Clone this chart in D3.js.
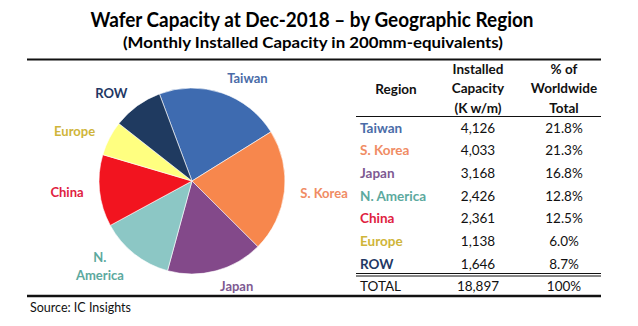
<!DOCTYPE html>
<html>
<head>
<meta charset="utf-8">
<script src="https://cdn.jsdelivr.net/npm/d3@7"></script>
<style>
  body { margin: 0; background: #fff; }
  text { font-family: Lato, "Open Sans", sans-serif; }
</style>
</head>
<body>
<script>
// Data
const regions = ["Taiwan", "S. Korea", "Japan", "N. America", "China", "Europe", "ROW"];
const pieLabels = [["Taiwan"], ["S. Korea"], ["Japan"], ["N.", "America"], ["China"], ["Europe"], ["ROW"]];
const capacity = [4126, 4033, 3168, 2426, 2361, 1138, 1646];
const share = ["21.8%", "21.3%", "16.8%", "12.8%", "12.5%", "6.0%", "8.7%"];
const total = ["TOTAL", "18,897", "100%"];
const sliceColors = ["#3e6bb0", "#f7874d", "#83498a", "#8cc7c5", "#f2141f", "#ffff80", "#1f3a60"];
const textColors = ["#4a6ca8", "#f08c64", "#7e5a92", "#5ca99e", "#e0213f", "#cfb53a", "#1f3864"];

const width = 638, height = 326;

const svg = d3.select("body").append("svg")
    .attr("width", width)
    .attr("height", height);

// Titles
svg.append("text")
    .attr("x", 312)
    .attr("y", 27)
    .attr("text-anchor", "middle")
    .style("font-size", "20px")
    .style("font-weight", "bold")
    .attr("textLength", 443)
    .attr("lengthAdjust", "spacingAndGlyphs")
    .text("Wafer Capacity at Dec-2018 \u2013 by Geographic Region");

svg.append("text")
    .attr("x", 313)
    .attr("y", 48)
    .attr("text-anchor", "middle")
    .style("font-size", "16px")
    .style("font-weight", "bold")
    .attr("textLength", 380)
    .attr("lengthAdjust", "spacingAndGlyphs")
    .text("(Monthly Installed Capacity in 200mm-equivalents)");

// Frame lines
svg.append("line")
    .attr("x1", 27).attr("x2", 601)
    .attr("y1", 59.5).attr("y2", 59.5)
    .attr("stroke", "#111").attr("stroke-width", 2);

svg.append("line")
    .attr("x1", 27).attr("x2", 601)
    .attr("y1", 296).attr("y2", 296)
    .attr("stroke", "#111").attr("stroke-width", 2.5);

// Pie
const cx = 192, cy = 181, radius = 93;
const pie = d3.pie()
    .sort(null)
    .startAngle(-20.5 * Math.PI / 180)
    .endAngle((360 - 20.5) * Math.PI / 180);
const arcs = pie(capacity);
const arc = d3.arc().innerRadius(0).outerRadius(radius);
const labelArc = d3.arc().innerRadius(109).outerRadius(109);

const pieG = svg.append("g").attr("transform", `translate(${cx},${cy})`);

pieG.selectAll("path")
    .data(arcs)
    .join("path")
    .attr("d", arc)
    .attr("fill", (d, i) => sliceColors[i])
    .attr("stroke", "#fff")
    .attr("stroke-width", 0.6);

// Pie labels, pushed outward on the side of each slice
arcs.forEach((d, i) => {
    const [lx, ly] = labelArc.centroid(d);
    const lines = pieLabels[i];
    const t = pieG.append("text")
        .attr("text-anchor", "middle")
        .style("font-size", "13px")
        .style("font-weight", "bold")
        .attr("fill", textColors[i]);
    lines.forEach((s, j) => {
        t.append("tspan")
            .attr("x", 0)
            .attr("dy", j === 0 ? 0 : 18)
            .text(s);
    });
    const bb = t.node().getBBox();
    const mid = (d.startAngle + d.endAngle) / 2;
    const side = Math.sin(mid) > 0 ? 1 : -1;
    const offY = ly - (bb.y + bb.height / 2);
    t.attr("transform", `translate(${lx + side * bb.width / 2},${offY})`);
});

// Source
svg.append("text")
    .attr("x", 30)
    .attr("y", 312)
    .style("font-size", "12.5px")
    .attr("fill", "#111")
    .text("Source:  IC Insights");

// Table
const colRegion = 360, colCap = 478, colPct = 564;
const yRow = d3.scalePoint()
    .domain(regions)
    .range([128, 264]);
const rowStep = yRow.step();

const header = svg.append("g")
    .style("font-size", "13.5px")
    .style("font-weight", "bold")
    .attr("fill", "#111")
    .attr("text-anchor", "middle");

header.append("text").attr("x", 396).attr("y", 89).attr("dy", "0.35em").text("Region");
["Installed", "Capacity", "(K w/m)"].forEach((s, j) => {
    header.append("text").attr("x", colCap).attr("y", 69 + j * 19.5).attr("dy", "0.35em").text(s);
});
["% of", "Worldwide", "Total"].forEach((s, j) => {
    header.append("text").attr("x", colPct).attr("y", 69 + j * 19.5).attr("dy", "0.35em").text(s);
});

svg.append("line")
    .attr("x1", 356).attr("x2", 601)
    .attr("y1", 116.5).attr("y2", 116.5)
    .attr("stroke", "#111").attr("stroke-width", 1);

const rows = svg.append("g").style("font-size", "13.5px");

regions.forEach((r, i) => {
    const y = yRow(r);
    rows.append("text")
        .attr("x", colRegion).attr("y", y).attr("dy", "0.35em")
        .style("font-weight", "bold")
        .attr("fill", textColors[i])
        .text(r);
    rows.append("text")
        .attr("x", colCap).attr("y", y).attr("dy", "0.35em")
        .attr("text-anchor", "middle")
        .attr("fill", "#111")
        .text(d3.format(",")(capacity[i]));
    rows.append("text")
        .attr("x", colPct).attr("y", y).attr("dy", "0.35em")
        .attr("text-anchor", "middle")
        .attr("fill", "#111")
        .text(share[i]);
});

// Double rule above the total
[273.5, 276].forEach(y => {
    svg.append("line")
        .attr("x1", 356).attr("x2", 601)
        .attr("y1", y).attr("y2", y)
        .attr("stroke", "#111").attr("stroke-width", 1);
});

const yTotal = yRow(regions[regions.length - 1]) + rowStep;
rows.append("text").attr("x", colRegion).attr("y", yTotal).attr("dy", "0.35em")
    .attr("fill", "#111").text(total[0]);
rows.append("text").attr("x", colCap).attr("y", yTotal).attr("dy", "0.35em")
    .attr("text-anchor", "middle").attr("fill", "#111").text(total[1]);
rows.append("text").attr("x", colPct).attr("y", yTotal).attr("dy", "0.35em")
    .attr("text-anchor", "middle").attr("fill", "#111").text(total[2]);
</script>
</body>
</html>
